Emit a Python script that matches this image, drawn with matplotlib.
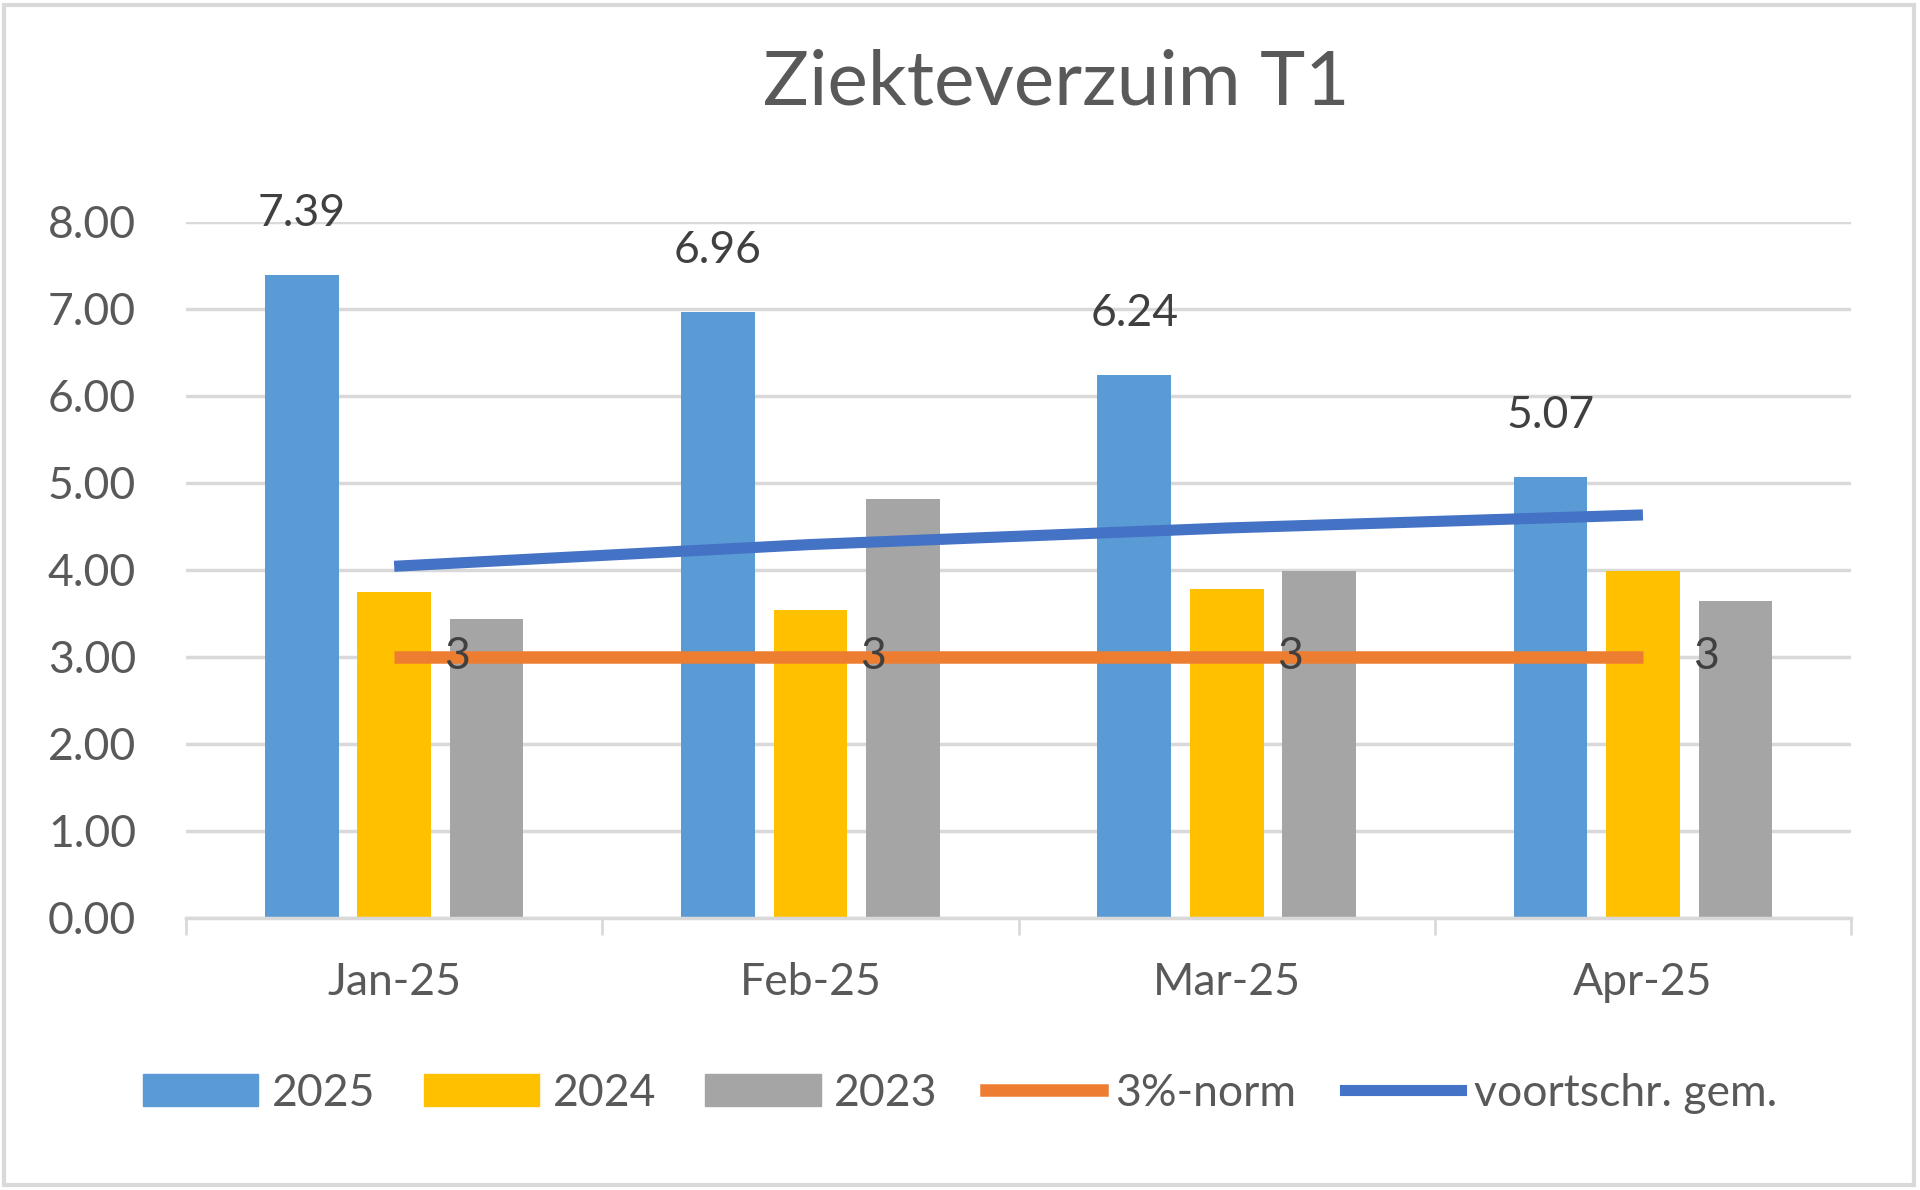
import matplotlib.pyplot as plt
import numpy as np
from matplotlib.patches import Rectangle, Patch
from matplotlib.lines import Line2D

plt.rcParams['font.family'] = ['Lato', 'DejaVu Sans']

months = ["Jan-25", "Feb-25", "Mar-25", "Apr-25"]
v2025 = [7.39, 6.96, 6.24, 5.07]
v2024 = [3.74, 3.54, 3.78, 3.99]
v2023 = [3.43, 4.81, 3.99, 3.64]
norm = [3, 3, 3, 3]
gem = [4.04, 4.29, 4.48, 4.63]

C2025 = "#5B9BD5"
C2024 = "#FFC000"
C2023 = "#A5A5A5"
CNORM = "#ED7D31"
CGEM = "#4472C4"
TXT = "#595959"
LBL = "#404040"
GRID = "#D9D9D9"

fig = plt.figure(figsize=(19.2, 11.9), dpi=100)
ax = fig.add_axes([0.0969, 0.2286, 0.8672, 0.5852])

x = np.arange(len(months))
w = 0.177
off = 0.222

ax.bar(x - off, v2025, w, color=C2025, zorder=2)
ax.bar(x, v2024, w, color=C2024, zorder=2)
ax.bar(x + off, v2023, w, color=C2023, zorder=2)

ax.plot(x, norm, color=CNORM, lw=9, zorder=3, solid_capstyle='butt')
ax.plot(x, gem, color=CGEM, lw=8, zorder=4, solid_capstyle='butt')

for i in range(len(months)):
    ax.annotate("%.2f" % v2025[i], (x[i] - off, v2025[i]), xytext=(0, 44),
                textcoords='offset points', ha='center', va='center',
                fontsize=32, color=LBL)
    ax.text(x[i] + 0.12, norm[i], "%d" % norm[i], ha='left', va='center',
            fontsize=32, color=LBL, zorder=5)

ax.set_xlim(-0.5, 3.5)
ax.set_ylim(0, 8)
ax.set_yticks(np.arange(0, 9, 1))
ax.set_yticklabels(["%.2f" % v for v in np.arange(0, 9, 1)])
ax.yaxis.grid(True, color=GRID, lw=2.5, zorder=0)
ax.set_axisbelow(True)

ax.set_xticks(x)
ax.set_xticklabels(months)
ax.set_xticks(np.arange(-0.5, 4.0, 1), minor=True)
ax.tick_params(axis='x', which='major', length=0, labelsize=32, labelcolor=TXT, pad=32)
ax.tick_params(axis='x', which='minor', length=12, width=2, color=GRID, direction='out')
ax.tick_params(axis='y', length=0, labelsize=32, labelcolor=TXT, pad=36)

for s in ['top', 'right', 'left']:
    ax.spines[s].set_visible(False)
ax.spines['bottom'].set_color(GRID)
ax.spines['bottom'].set_linewidth(2.5)

fig.text(0.55, 1 - 83 / 1190, "Ziekteverzuim T1", ha='center', va='center',
         fontsize=55, color=TXT)

handles = [Patch(color=C2025), Patch(color=C2024), Patch(color=C2023),
           Line2D([], [], color=CNORM, lw=9), Line2D([], [], color=CGEM, lw=8)]
labels = ["2025", "2024", "2023", "3%-norm", "voortschr. gem."]
fig.legend(handles, labels, loc='center', bbox_to_anchor=(0.5, 1 - 1093 / 1190),
           ncol=5, frameon=False, fontsize=32, handlelength=2.6, handleheight=0.7,
           handletextpad=0.3, columnspacing=1.1, labelcolor=TXT)

fig.patches.append(Rectangle((0.002, 0.004), 0.995, 0.992, transform=fig.transFigure,
                             fill=False, edgecolor=GRID, lw=3))

fig.savefig("out.png", dpi=100)
